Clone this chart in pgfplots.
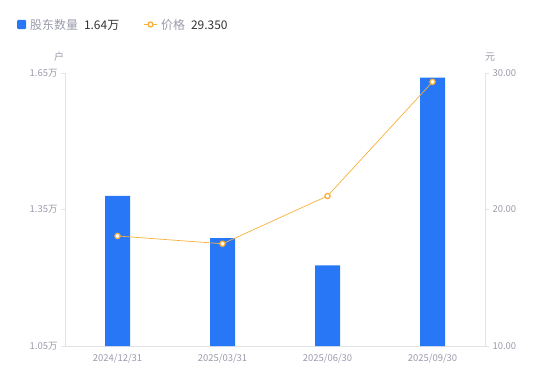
\documentclass[border=0pt]{standalone}
\usepackage{pgfplots}
\pgfplotsset{compat=1.18}
\usepackage{fontspec}
\setmainfont{Noto Sans CJK SC}
\definecolor{barblue}{HTML}{2777F6}
\definecolor{lineorange}{HTML}{F8B03C}
\definecolor{txtgray}{HTML}{9A9BAB}
\definecolor{axgray}{HTML}{E2E3E8}
\definecolor{darktxt}{HTML}{333333}
\begin{document}
\begin{tikzpicture}[x=1bp,y=1bp]
\path[use as bounding box] (0,0) rectangle (550,381);
\pgfplotsset{
  common/.style={
    at={(65bp,35bp)}, anchor=south west, scale only axis,
    width=420bp, height=273bp, xmin=-0.5, xmax=3.5,
    axis line style={axgray, line width=0.8pt},
    tick style={axgray, line width=0.8pt},
    tick align=outside, major tick length=4bp,
    ticklabel style={font=\fontsize{9.5}{11}\selectfont, text=txtgray},
    /pgf/number format/assume math mode=true,
  }
}
\begin{axis}[common,
  ymin=1.05, ymax=1.65,
  axis y line*=left, axis x line*=bottom,
  xtick={0,1,2,3}, xticklabels={2024/12/31,2025/03/31,2025/06/30,2025/09/30},
  x tick style={draw=none},
  ytick={1.05,1.35,1.65},
  yticklabel={\pgfmathprintnumber[fixed,precision=2,fixed zerofill]{\tick}万},
  ybar, bar width=25bp,
]
\addplot[fill=barblue, draw=none] coordinates {(0,1.380) (1,1.287) (2,1.227) (3,1.640)};
\end{axis}
\begin{axis}[common,
  ymin=10, ymax=30,
  axis y line*=right, axis x line=none,
  ytick={10,20,30},
  yticklabel={\pgfmathprintnumber[fixed,precision=2,fixed zerofill]{\tick}},
]
\addplot[lineorange, line width=0.7pt, mark=*, mark size=2.6bp,
  mark options={fill=white, draw=lineorange, line width=1.3pt}]
  coordinates {(0,18.06) (1,17.49) (2,20.99) (3,29.35)};
\end{axis}
\node[font=\fontsize{10}{12}\selectfont, text=txtgray] at (59,324) {户};
\node[font=\fontsize{10}{12}\selectfont, text=txtgray] at (490,324) {元};
% legend
\fill[barblue, rounded corners=1bp] (17,352) rectangle (26,361);
\node[anchor=west, font=\fontsize{12}{14}\selectfont, inner sep=0] at (30,356.5) {\textcolor{txtgray}{股东数量}\hspace{6bp}\textcolor{darktxt}{1.64万}};
\draw[lineorange, line width=0.8pt] (144,356.5) -- (157,356.5);
\filldraw[draw=lineorange, fill=white, line width=1.3pt] (150.5,356.5) circle (2.5bp);
\node[anchor=west, font=\fontsize{12}{14}\selectfont, inner sep=0] at (161,356.5) {\textcolor{txtgray}{价格}\hspace{6bp}\textcolor{darktxt}{29.350}};
\end{tikzpicture}
\end{document}
